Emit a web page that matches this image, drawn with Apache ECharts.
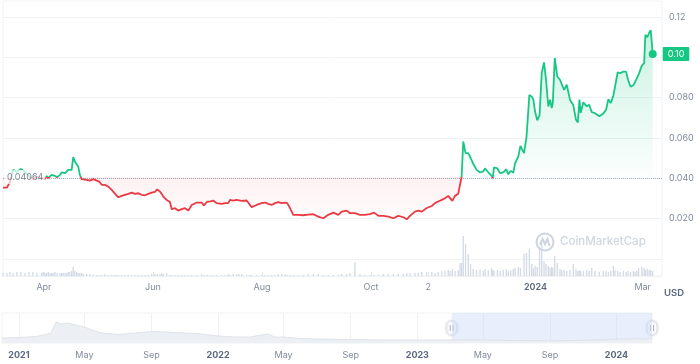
<!DOCTYPE html>
<html><head><meta charset="utf-8">
<script src="https://cdn.jsdelivr.net/npm/echarts@6/dist/echarts.min.js"></script>
<style>html,body{margin:0;padding:0;background:#fff}#c{width:700px;height:364px}</style>
</head><body><div id="c"></div>
<script>
// ---- data ----
const startDate = '2023-04-01';           // day 0 of the offsets below
const days = [-22.9,-20.7,-19.0,-17.3,-15.1,-12.9,-10.6,-8.4,-6.2,-3.9,
-1.3,-0.4,0.6,1.5,2.4,3.4,4.3,5.2,6.2,7.4,
9.0,9.9,10.8,11.8,12.7,13.6,14.5,15.5,16.4,17.3,
18.3,19.2,20.1,21.1,22.0,23.9,25.7,27.6,29.5,30.9,
32.3,34.1,36.0,37.9,39.2,40.3,41.6,43.5,45.3,47.2,
49.1,50.9,52.8,54.7,56.5,58.4,60.3,62.1,63.4,64.9,
65.9,66.8,68.7,70.5,71.5,73.3,75.2,77.1,78.9,80.8,
82.7,85.5,88.2,89.5,91.4,93.2,94.7,96.6,99.4,101.3,
103.1,104.1,105.9,107.8,109.1,110.6,113.4,115.3,116.2,119.0,
121.8,123.7,125.5,127.4,129.3,131.1,133.0,134.9,136.1,137.7,
139.5,142.3,145.1,147.9,150.7,153.5,156.3,159.1,161.9,164.7,
166.6,169.4,171.2,174.0,176.8,179.6,182.4,184.7,187.1,189.9,
192.7,195.5,198.3,201.1,203.0,204.8,207.6,209.5,211.4,214.2,
217.0,218.8,220.6,222.6,224.4,226.2,227.2,228.5,230.0,231.8,
232.8,233.7,234.6,235.9,237.4,238.7,240.2,242.1,244.0,245.8,
246.8,248.6,250.5,251.1,251.8,253.7,255.2,257.0,258.7,259.8,
261.2,262.6,263.6,265.4,266.6,268.6,270.0,271.6,272.9,273.8,
274.8,276.0,277.3,278.5,279.8,280.9,282.2,283.2,284.1,284.7,
285.8,287.2,288.7,289.7,291.0,292.5,294.3,296.2,297.7,298.7,
299.6,300.3,301.8,303.7,305.1,306.5,308.3,310.7,313.0,314.5,
315.8,317.1,318.6,319.5,321.0,322.3,324.2,325.7,326.8,328.2,
329.8,330.7,331.7,332.7,334.5,335.8,336.5,337.6,338.6,339.5,
340.6];
const prices = [.0354,.0354,.0382,.0442,.0432,.0447,.0432,.0412,.0397,.0407,
.0401,.0409,.0396,.0412,.0401,.0392,.0417,.0422,.0412,.0406,
.0417,.0429,.0422,.0426,.0417,.0442,.0450,.0442,.0505,.0483,
.0478,.0458,.0417,.0396,.0387,.0392,.0389,.0396,.0389,.0384,
.0368,.0368,.0359,.0343,.0329,.0323,.0306,.0313,.0318,.0323,
.0329,.0323,.0326,.0318,.0316,.0323,.0329,.0333,.0345,.0334,
.0323,.0309,.0293,.0283,.0247,.0252,.0240,.0247,.0252,.0240,
.0268,.0280,.0280,.0266,.0285,.0286,.0290,.0277,.0273,.0277,
.0277,.0293,.0290,.0293,.0291,.0288,.0290,.0268,.0257,.0268,
.0277,.0280,.0273,.0268,.0277,.0282,.0277,.0280,.0277,.0252,
.0219,.0219,.0217,.0220,.0222,.0210,.0202,.0219,.0230,.0219,
.0235,.0240,.0227,.0227,.0219,.0219,.0223,.0230,.0214,.0214,
.0210,.0202,.0214,.0207,.0197,.0214,.0235,.0240,.0235,.0253,
.0263,.0277,.0285,.0293,.0301,.0313,.0313,.0288,.0313,.0323,
.0326,.0409,.0583,.0525,.0525,.0502,.0472,.0442,.0429,.0434,
.0449,.0430,.0412,.0401,.0454,.0449,.0426,.0430,.0445,.0420,
.0437,.0427,.0475,.0508,.0561,.0525,.0606,.0814,.0805,.0790,
.0730,.0688,.0713,.0922,.0975,.0889,.0756,.0790,.0748,.0773,
.0997,.0905,.0889,.0897,.0839,.0864,.0790,.0762,.0690,.0677,
.0790,.0724,.0777,.0757,.0765,.0728,.0723,.0708,.0722,.0740,
.0792,.0773,.0810,.0815,.0926,.0921,.0929,.0929,.0889,.0854,
.0862,.0877,.0872,.0914,.0959,.0971,.1112,.1100,.1122,.1135,
.1016];
const volumes = [3,3,4,3,4,4,3,4,4,3,
3,4,3,3,4,3,3,3,4,3,
3,3,3,3,3,4,4,5,9,5,
4,3,3,3,2,2,2,1,1,1,
1,2,1,1,1,1,1,1,1,1,
1,1,1,1,1,1,2,2,2,2,
3,2,3,1,1,1,1,1,1,1,
1,1,2,1,1,1,1,1,1,1,
2,1,2,2,2,2,1,1,1,1,
1,1,1,1,1,2,2,2,1,1,
1,1,1,2,2,2,1,1,1,1,
2,2,3,14,2,1,1,1,1,2,
2,2,2,2,3,3,3,3,4,4,
4,3,4,5,5,6,5,7,5,6,
13,13,40,32,22,12,7,6,6,5,
7,6,8,6,5,6,5,6,7,5,
6,7,8,9,8,22,23,27,12,8,
10,9,28,33,15,12,10,8,9,8,
20,13,7,6,6,5,6,12,7,5,
6,5,5,6,5,8,5,4,5,5,
4,5,10,6,5,4,5,4,5,4,
5,4,5,8,9,8,6,7,6,6,
5];
const refPrice = 0.04064;
const refLabel = '0.04064';
const viewStartDay = -22.9, viewEndDay = 345.8;
const xTickDates = ['2023-04-01','2023-06-01','2023-08-01','2023-10-01','2023-11-02','2024-01-01','2024-03-01'];
const xTickLabels = ['Apr','Jun','Aug','Oct','2','2024','Mar'];
const navDates = ['2020-12-01','2021-01-01','2021-02-01','2021-02-15','2021-03-01','2021-03-10','2021-03-20','2021-04-01','2021-04-15','2021-05-01','2021-05-15','2021-06-01','2021-07-01','2021-08-01','2021-09-01','2021-10-01','2021-11-01','2021-12-01','2022-01-01','2022-02-01','2022-03-01','2022-04-01','2022-04-15','2022-05-01','2022-06-01','2022-07-01','2022-09-01','2022-11-01','2023-01-01','2023-03-01','2023-04-15','2023-06-01','2023-09-01','2023-11-01','2024-01-01','2024-03-06'];
const navValues = [.067,.073,.086,.106,.133,.279,.253,.266,.239,.213,.173,.133,.113,.133,.153,.146,.133,.120,.093,.080,.080,.120,.080,.080,.060,.053,.047,.040,.040,.040,.045,.035,.030,.035,.050,.060];
const navTickDates = ['2021-01-01','2021-05-01','2021-09-01','2022-01-01','2022-05-01','2022-09-01','2023-01-01','2023-05-01','2023-09-01','2024-01-01'];
const navTickLabels = ['2021','May','Sep','2022','May','Sep','2023','May','Sep','2024'];
const navStart = '2020-12-01', navEnd = '2024-03-06';
const selStart = '2023-03-05', selEnd = '2024-03-06';
const currency = 'USD';

// ---- build ----
const DAY = 86400000;
const t0 = Date.parse(startDate + 'T00:00:00Z');
const ts = d => t0 + d * DAY;
const tsOf = s => Date.parse(s + 'T00:00:00Z');
const GREEN = '#16c784', RED = '#ea3943';
const FONT = 'Inter, Roboto, sans-serif';
const FS = 9;
const n = Math.min(days.length, prices.length, volumes.length);
const priceData = [], upData = [], downData = [], volData = [];
for (let i = 0; i < n; i++) {
  const t = ts(days[i]);
  priceData.push([t, prices[i]]);
  upData.push([t, Math.max(prices[i], refPrice)]);
  downData.push([t, Math.min(prices[i], refPrice)]);
  volData.push([t, volumes[i]]);
}
const lastT = ts(days[n - 1]), lastP = prices[n - 1];
const xTickTs = xTickDates.map(tsOf);
const navTickTs = navTickDates.map(tsOf);
const fmtLab = (tks, labs) => v => {
  let best = -1, bd = Infinity;
  tks.forEach((t, i) => { const dd = Math.abs(t - v); if (dd < bd) { bd = dd; best = i; } });
  if (best < 0 || bd > DAY) return '';
  const s = labs[best];
  return /^\d{4}$/.test(s) ? '{b|' + s + '}' : s;
};

const chart = echarts.init(document.getElementById('c'), null, {renderer: 'canvas'});
chart.setOption({
  animation: false,
  backgroundColor: '#fff',
  textStyle: {fontFamily: FONT},
  grid: [
    {left: 3, right: 38, top: 17, bottom: 105},
    {left: 3, right: 38, top: 1, bottom: 88, show: true, borderColor: '#eff2f5', borderWidth: 1},
    {left: 2, right: 48, top: 313, bottom: 21, show: true, borderColor: '#eff2f5', borderWidth: 1}
  ],
  xAxis: [
    {type: 'value', gridIndex: 0, min: ts(viewStartDay), max: ts(viewEndDay), show: false},
    {type: 'value', gridIndex: 1, min: ts(viewStartDay), max: ts(viewEndDay),
      axisLine: {show: true, lineStyle: {color: '#eff2f5'}},
      axisTick: {show: true, inside: true, length: 4, customValues: xTickTs, lineStyle: {color: '#e3e7ee'}},
      splitLine: {show: false},
      axisLabel: {customValues: xTickTs, formatter: fmtLab(xTickTs, xTickLabels), margin: 7, color: '#808a9d', fontSize: FS, fontFamily: FONT,
        rich: {b: {fontWeight: 600, color: '#58667e', fontSize: FS, fontFamily: FONT}}}},
    {type: 'value', gridIndex: 2, min: tsOf(navStart), max: tsOf(navEnd),
      axisLine: {show: false},
      axisTick: {show: false, customValues: navTickTs},
      splitLine: {show: true, lineStyle: {color: '#eff2f5'}},
      axisLabel: {customValues: navTickTs, formatter: fmtLab(navTickTs, navTickLabels), margin: 8, color: '#808a9d', fontSize: FS, fontFamily: FONT,
        rich: {b: {fontWeight: 700, color: '#58667e', fontSize: FS, fontFamily: FONT}}}}
  ],
  yAxis: [
    {type: 'value', gridIndex: 0, position: 'right', min: 0, max: 0.12, interval: 0.02,
      axisLine: {show: false}, axisTick: {show: false},
      splitLine: {show: true, lineStyle: {color: '#eff2f5'}},
      axisLabel: {margin: 7, color: '#808a9d', fontSize: FS, fontFamily: FONT,
        formatter: v => v === 0 ? '' : (v >= 0.1 ? v.toFixed(2) : v.toFixed(3))}},
    {type: 'value', gridIndex: 1, min: 0, max: 275, show: false},
    {type: 'value', gridIndex: 2, min: 0, max: 0.4, show: false}
  ],
  series: [
    {type: 'bar', xAxisIndex: 1, yAxisIndex: 1, data: volData, barWidth: 1.3, silent: true,
      itemStyle: {color: '#d3d9e5'}},
    {type: 'line', xAxisIndex: 0, yAxisIndex: 0, data: upData, symbol: 'none', silent: true,
      lineStyle: {width: 0, opacity: 0},
      areaStyle: {origin: refPrice, color: new echarts.graphic.LinearGradient(0, 0, 0, 1, [
        {offset: 0, color: 'rgba(22,199,132,0.32)'}, {offset: 1, color: 'rgba(22,199,132,0.02)'}])}},
    {type: 'line', xAxisIndex: 0, yAxisIndex: 0, data: downData, symbol: 'none', silent: true,
      lineStyle: {width: 0, opacity: 0},
      areaStyle: {origin: refPrice, color: new echarts.graphic.LinearGradient(0, 0, 0, 1, [
        {offset: 0, color: 'rgba(234,57,67,0.10)'}, {offset: 1, color: 'rgba(234,57,67,0.02)'}])}},
    {type: 'line', xAxisIndex: 0, yAxisIndex: 0, data: priceData, symbol: 'none', z: 5,
      lineStyle: {width: 1.8, color: GREEN},
      markLine: {silent: true, symbol: 'none', label: {show: false},
        lineStyle: {type: 'dotted', color: '#a1a9bb', width: 1}, data: [{yAxis: refPrice}]},
      markPoint: {silent: true, data: [
        {coord: [lastT, lastP], symbol: 'circle', symbolSize: 8, itemStyle: {color: GREEN},
          label: {show: true, position: 'right', distance: 6, formatter: lastP.toFixed(2), color: '#fff', fontSize: FS, fontFamily: FONT,
            backgroundColor: GREEN, padding: [3, 5, 2, 5], borderRadius: 1}}
      ]}},
    {type: 'line', xAxisIndex: 2, yAxisIndex: 2, data: navDates.map((d, i) => [tsOf(d), navValues[i]]), symbol: 'none', silent: true,
      lineStyle: {color: '#dfe3ea', width: 1}, areaStyle: {color: '#eceff3', opacity: 1},
      markArea: {silent: true, itemStyle: {color: 'rgba(200,214,246,0.42)'},
        data: [[{xAxis: tsOf(selStart)}, {xAxis: tsOf(selEnd)}]]}},
    // reference-price label, drawn above the price line
    {type: 'scatter', xAxisIndex: 0, yAxisIndex: 0, data: [[ts(viewStartDay), refPrice]], symbolSize: 0, z: 10, silent: true, clip: false,
      label: {show: true, position: 'right', distance: 2, formatter: refLabel, color: '#58667e', fontSize: FS, fontFamily: FONT,
        backgroundColor: 'rgba(255,255,255,0.88)', padding: [3, 2, 2, 2]}}
  ]
});

// line colour: green at/above the reference price, red below (hard stop at the reference level)
const yTop = chart.convertToPixel({yAxisIndex: 0}, 0.12);
const yBot = chart.convertToPixel({yAxisIndex: 0}, 0);
const yRef = chart.convertToPixel({yAxisIndex: 0}, refPrice);
const r = (yRef - yTop) / (yBot - yTop);
const lineGrad = new echarts.graphic.LinearGradient(0, yTop, 0, yBot, [
  {offset: 0, color: GREEN}, {offset: r, color: GREEN}, {offset: r, color: RED}, {offset: 1, color: RED}], true);

const hy = chart.convertToPixel({yAxisIndex: 2}, 0.2);
const handle = (x) => ({type: 'group', x: x, y: hy, z: 50, children: [
  {type: 'rect', shape: {x: -5, y: -7, width: 10, height: 14, r: 5},
    style: {fill: '#fff', stroke: '#e1e5ec', lineWidth: 1, shadowBlur: 3, shadowColor: 'rgba(0,0,0,0.18)'}},
  {type: 'line', shape: {x1: -1.5, y1: -3, x2: -1.5, y2: 3}, style: {stroke: '#a6b0c3', lineWidth: 1}},
  {type: 'line', shape: {x1: 1.5, y1: -3, x2: 1.5, y2: 3}, style: {stroke: '#a6b0c3', lineWidth: 1}}
]});
chart.setOption({
  series: [{}, {}, {}, {lineStyle: {color: lineGrad}}, {}, {}],
  graphic: {elements: [
    {type: 'group', x: 545, y: 242, z: 0, silent: true, children: [
      {type: 'circle', shape: {cx: 0, cy: 0, r: 8.5}, style: {fill: 'none', stroke: '#cfd5e0', lineWidth: 2}},
      {type: 'polyline', shape: {points: [[-5, 3], [-2.5, -3], [0, 2], [2.5, -3], [4.5, 4]]}, style: {fill: 'none', stroke: '#cfd5e0', lineWidth: 2}}
    ]},
    {type: 'text', x: 560, y: 242, silent: true, style: {text: 'CoinMarketCap', fill: '#cfd5e0', font: '500 11.5px ' + FONT, verticalAlign: 'middle'}},
    {type: 'text', x: 664, y: 293, silent: true, style: {text: currency, fill: '#58667e', font: '600 9.5px ' + FONT, verticalAlign: 'middle'}},
    handle(chart.convertToPixel({xAxisIndex: 2}, tsOf(selStart))),
    handle(chart.convertToPixel({xAxisIndex: 2}, tsOf(selEnd)))
  ]}
});
</script>
</body></html>
